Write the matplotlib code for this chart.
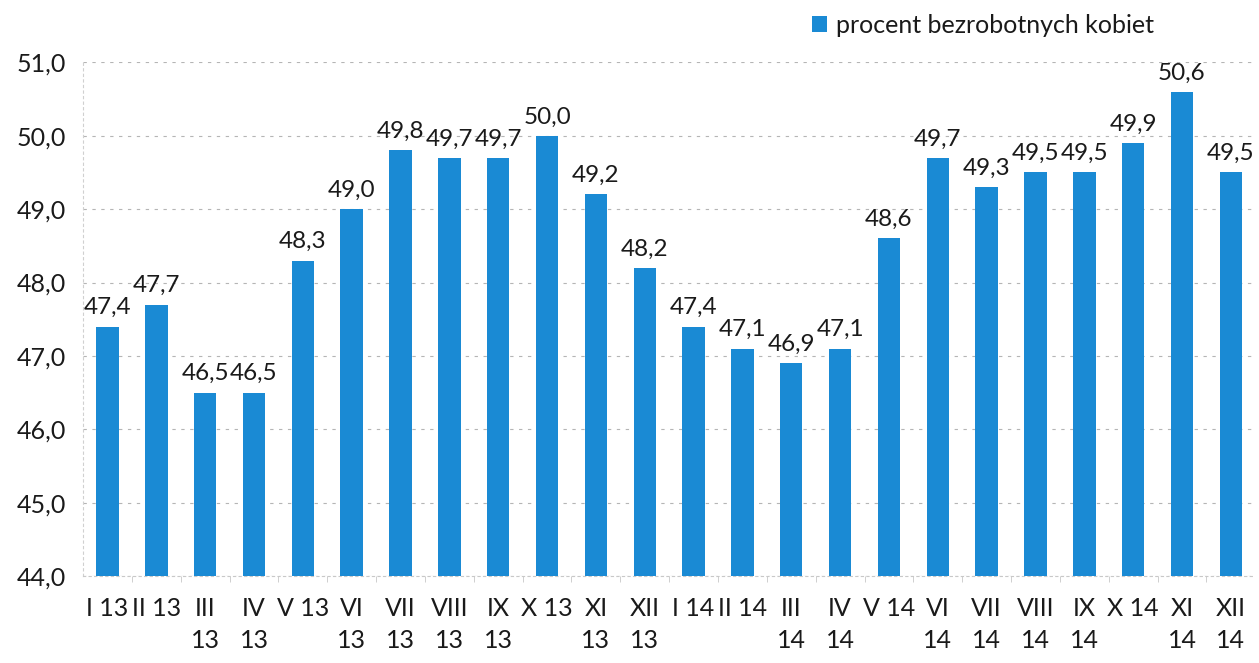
import matplotlib
matplotlib.use("Agg")
import matplotlib.pyplot as plt
from matplotlib.patches import Patch

categories = ["I 13", "II 13", "III\n13", "IV\n13", "V 13", "VI\n13", "VII\n13", "VIII\n13",
              "IX\n13", "X 13", "XI\n13", "XII\n13", "I 14", "II 14", "III\n14", "IV\n14",
              "V 14", "VI\n14", "VII\n14", "VIII\n14", "IX\n14", "X 14", "XI\n14", "XII\n14"]
values = [47.4, 47.7, 46.5, 46.5, 48.3, 49.0, 49.8, 49.7, 49.7, 50.0, 49.2, 48.2,
          47.4, 47.1, 46.9, 47.1, 48.6, 49.7, 49.3, 49.5, 49.5, 49.9, 50.6, 49.5]
yticks = [44.0, 45.0, 46.0, 47.0, 48.0, 49.0, 50.0, 51.0]
series_name = "procent bezrobotnych kobiet"

plt.rcParams['font.family'] = ['Lato', 'DejaVu Sans']
color = "#1a8ad4"
tc = "#1a1a1a"

fig = plt.figure(figsize=(12.59, 6.63), dpi=100)
ax = fig.add_axes([0.066, 0.131, 0.931, 0.775])

x = list(range(len(categories)))
ax.bar(x, [v - 44.0 for v in values], bottom=44.0, width=0.46, color=color, zorder=3)

for xi, v in zip(x, values):
    ax.annotate(f"{v:.1f}".replace(".", ","), (xi, v), xytext=(0, 6), textcoords="offset points",
                ha="center", va="bottom", fontsize=17.5, color=tc)

ax.set_ylim(44, 51)
ax.set_xlim(-0.5, len(categories) - 0.5)
ax.set_yticks(yticks)
ax.set_yticklabels([f"{t:.1f}".replace(".", ",") for t in yticks], fontsize=18, color=tc)
ax.yaxis.grid(True, linestyle=(0, (3, 5)), color="#b5b5b5", linewidth=0.8, zorder=0)
ax.tick_params(axis="y", length=0, pad=12)

ax.set_xticks([i + 0.5 for i in x[:-1]], minor=True)
ax.set_xticks(x)
ax.set_xticklabels(categories, fontsize=18, color=tc, linespacing=1.5)
ax.tick_params(axis="x", which="major", length=0, pad=15)
ax.tick_params(axis="x", which="minor", length=4, color="#c8c8c8")
for lbl in ax.get_xticklabels():
    lbl.set_verticalalignment("top")

for s in ["top", "right"]:
    ax.spines[s].set_visible(False)
ax.spines["left"].set_color("#d0d0d0")
ax.spines["left"].set_linestyle((0, (2, 3)))
ax.spines["bottom"].set_color("#c8c8c8")
ax.spines["bottom"].set_linestyle((0, (2, 3)))

handles = [Patch(facecolor=color, label=series_name)]
fig.legend(handles=handles, loc="center left", bbox_to_anchor=(0.645, 0.962), frameon=False,
           borderpad=0, borderaxespad=0, fontsize=18, handlelength=0.6, handleheight=0.6,
           handletextpad=0.35, labelcolor=tc)

fig.savefig("out.png", dpi=100, facecolor="white")
